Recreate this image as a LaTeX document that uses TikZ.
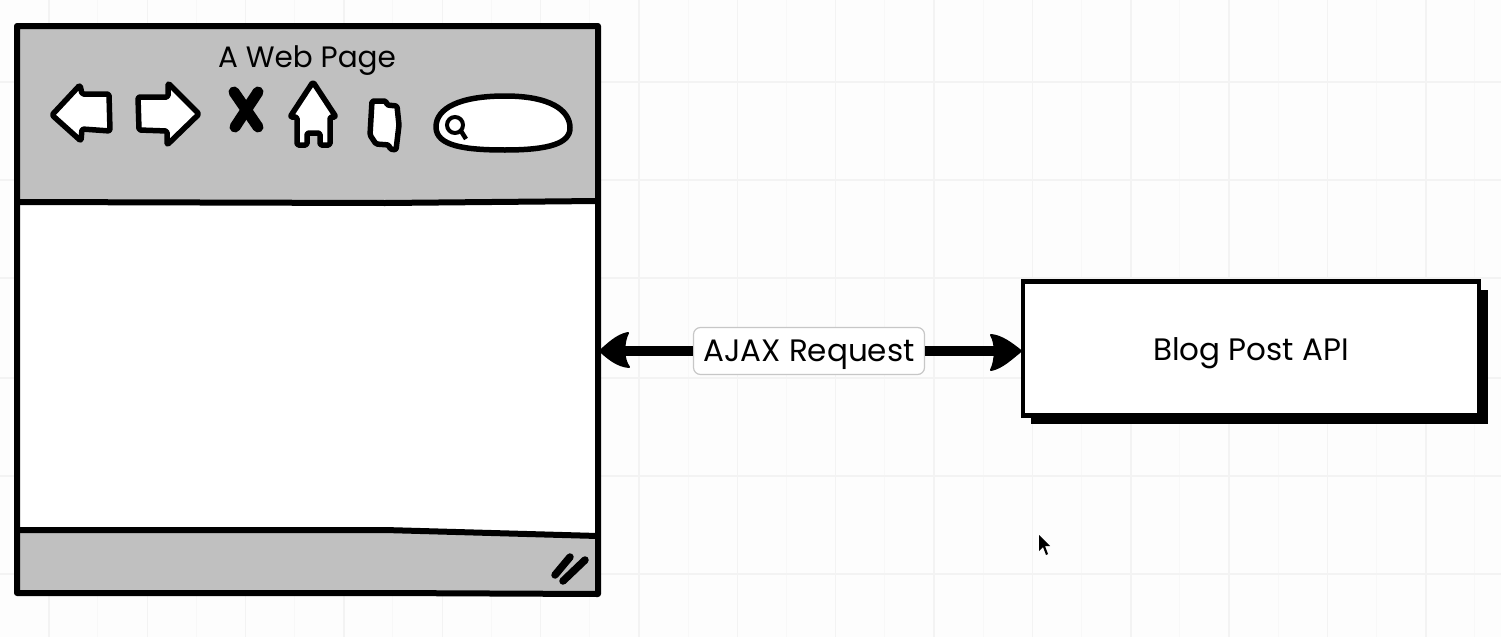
\documentclass[tikz,border=0pt]{standalone}
\usepackage{fontspec}
\setmainfont{Poppins}
\definecolor{gridc}{HTML}{F3F3F3}
\definecolor{gridm}{HTML}{F8F8F8}
\definecolor{panel}{HTML}{C0C0C0}
\definecolor{paper}{HTML}{FDFDFD}
\tikzset{
 ink/.style={draw=black,line width=6pt,line join=round},
 icon/.style={draw=black,fill=white,line width=5.5pt,line join=round,rounded corners=1.5pt},
 lbl/.style={font=\fontsize{31}{36}\selectfont,text=black,inner sep=0pt,anchor=base},
 head/.style={fill=black,draw=black,line width=2pt,line join=round},
}
\begin{document}
\begin{tikzpicture}[x=1pt,y=-1pt]
\useasboundingbox (0,0) rectangle (1501,637);
\fill[paper] (0,0) rectangle (1501,637);
\foreach \k in {0,...,15} \draw[gridm,line width=1pt] ({-0.45+98.35*\k},0)--({-0.45+98.35*\k},637);
\foreach \k in {0,...,15} \draw[gridc,line width=1.5pt] ({48.9+98.35*\k},0)--({48.9+98.35*\k},637);
\foreach \y in {82,180,278,378,476,574} \draw[gridc,line width=1.5pt] (0,\y)--(1501,\y);
% browser window
\fill[panel] (17,26) rectangle (598,594);
\fill[white] (17,202) -- (385,203) -- (598,201) -- (598,535) -- (400,530) -- (17,530) -- cycle;
\draw[ink] (17,26) -- (598,26) -- (598,594) -- (385,593) -- (17,593) -- cycle;
\draw[ink] (17,202) -- (385,203) -- (598,201);
\draw[ink] (17,530) -- (385,530) -- (598,536);
\node[lbl,font=\fontsize{29.5}{36}\selectfont] (title) at (307,67) {A Web Page};
% back
\path[icon] (52,115) -- (80,85) -- (82,94) -- (109,94) -- (110,131) -- (82,129) -- (81,141) -- cycle;
% forward
\path[icon] (199,114) -- (168,83) -- (168,97) -- (138,97) -- (139,130) -- (167,131) -- (167,145) -- cycle;
% stop
\path[draw=black,line width=11pt,line cap=round] (234,92) -- (258,127);
\path[draw=black,line width=11pt,line cap=round] (258,92) -- (235,127);
% home
\path[icon] (313,82) -- (336,117) -- (330,117) -- (330,145) -- (320,145) -- (320,133) -- (307,133) -- (307,145) -- (297,145) -- (297,117) -- (290,117) -- cycle;
% reload
\path[icon] (372,101) -- (386,101) -- (387,105) -- (397,106) -- (399,125) -- (396,150) -- (390,149) -- (389,145) -- (376,144) -- (370,135) -- cycle;
% search
\path[icon,rounded corners=0pt] (436,127) .. controls (436,108) and (460,96) .. (505,96) .. controls (550,96) and (570,110) .. (570,128) .. controls (570,143) and (550,150) .. (505,150) .. controls (465,150) and (436,146) .. (436,127) -- cycle;
\draw[black,line width=4pt] (455,125) circle (8);
\draw[black,line width=4.5pt] (461,131) -- (466,139);
% resize grip
\draw[black,line width=7.5pt,line cap=round] (555,575) -- (570,557);
\draw[black,line width=7.5pt,line cap=round] (563,581) -- (585,560);
% API box
\fill[black] (1031,290) rectangle (1488,424);
\node[draw=black,fill=white,line width=4.5pt,minimum width=456pt,minimum height=134pt,inner sep=0pt] (api) at (1251,348.5) {};
\node[lbl] at (1251,360) {Blog Post API};
% AJAX connector
\node[draw=black!22,fill=white,rounded corners=7pt,line width=1.2pt,minimum width=231pt,minimum height=47pt,inner sep=0pt] (ajax) at (809,351) {};
\node[lbl] at (809,361) {AJAX Request};
\draw[black,line width=9.5pt] (ajax.west) -- (622,351);
\draw[black,line width=9.5pt] (ajax.east) -- (996,351);
\path[head] (600,351) .. controls (608,344) and (617,335) .. (628,333) .. controls (623,342) and (623,360) .. (629,367) .. controls (617,366) and (608,358) .. (600,351) -- cycle;
\path[head] (1021,351) .. controls (1012,344) and (1002,336) .. (991,335) .. controls (996,343) and (996,360) .. (991,370) .. controls (1002,368) and (1012,358) .. (1021,351) -- cycle;
% cursor
\fill[black] (1039,535) -- (1039,551) -- (1043,547) -- (1046,555) -- (1048,554) -- (1045,546) -- (1050,546) -- cycle;
\end{tikzpicture}
\end{document}
